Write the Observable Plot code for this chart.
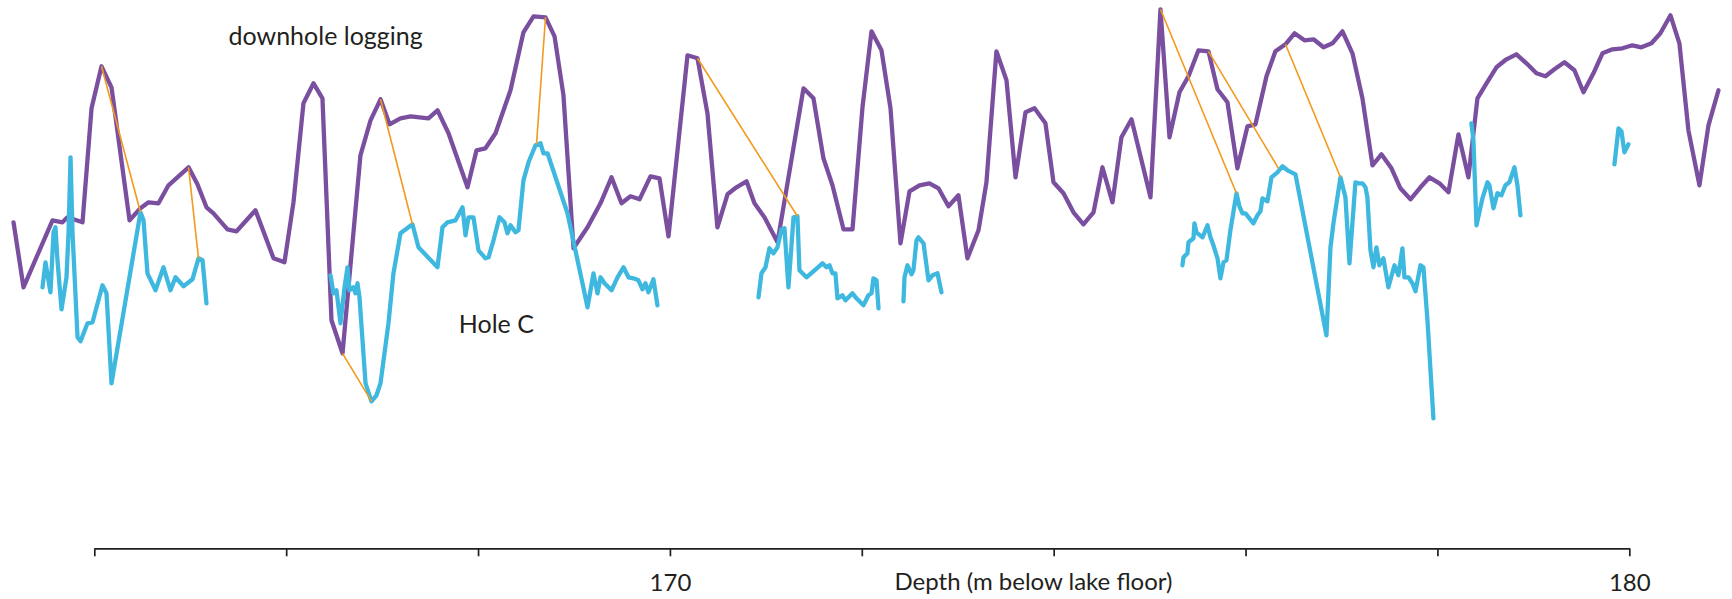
<!DOCTYPE html>
<html>
<head>
<meta charset="utf-8">
<script src="https://cdn.jsdelivr.net/npm/d3@7"></script>
<script src="https://cdn.jsdelivr.net/npm/@observablehq/plot@0.6"></script>
<style>
  html, body { margin: 0; padding: 0; background: #fff; }
  #chart svg { display: block; }
</style>
</head>
<body>
<div id="chart"></div>
<script>
// Downhole logging curve (depth in m below lake floor, relative signal value)
const logDepth = [163.153,163.257,163.559,163.663,163.715,163.872,163.966,164.070,164.174,164.362,164.476,164.560,164.664,164.768,164.977,165.070,165.164,165.237,165.383,165.477,165.675,165.863,165.977,166.071,166.175,166.280,166.373,166.467,166.582,166.769,166.874,166.978,167.072,167.186,167.291,167.478,167.572,167.687,167.885,167.979,168.072,168.177,168.333,168.468,168.573,168.698,168.792,168.885,168.990,169.136,169.271,169.386,169.490,169.584,169.678,169.792,169.886,169.980,170.178,170.282,170.386,170.490,170.595,170.688,170.793,170.876,170.980,171.116,171.387,171.491,171.595,171.689,171.804,171.898,172.002,172.096,172.200,172.294,172.398,172.492,172.596,172.700,172.794,172.898,173.002,173.096,173.211,173.294,173.398,173.503,173.597,173.701,173.795,173.909,173.993,174.097,174.201,174.305,174.410,174.503,174.608,174.701,174.806,175.004,175.108,175.202,175.306,175.400,175.504,175.608,175.702,175.806,175.910,176.015,176.098,176.213,176.306,176.411,176.505,176.609,176.703,176.807,176.901,177.005,177.109,177.213,177.318,177.411,177.516,177.609,177.714,177.818,177.912,178.016,178.110,178.214,178.318,178.412,178.506,178.610,178.714,178.818,178.923,179.027,179.121,179.214,179.319,179.423,179.517,179.621,179.715,179.819,179.923,180.027,180.121,180.226,180.319,180.424,180.517,180.611,180.726,180.820,180.924];
const logValue = [65.3,52.3,65.7,65.3,66.3,65.3,88.1,96.5,92.3,65.7,68.1,69.3,69.1,72.7,76.3,72.9,68.3,67.1,63.9,63.5,67.7,58.1,57.3,69.3,89.1,93.1,90.1,45.7,39.1,78.7,85.7,89.9,84.9,86.1,86.5,86.1,87.7,83.1,72.3,79.7,80.1,83.1,91.7,103.3,106.5,106.3,102.5,90.7,60.1,64.3,69.1,74.3,69.1,70.5,69.9,74.5,74.1,62.5,98.7,98.1,87.1,64.3,70.9,72.3,73.5,69.1,66.3,61.3,92.1,90.1,78.1,72.7,63.9,63.9,88.3,103.5,99.7,88.1,61.1,71.5,72.7,73.1,72.1,68.5,70.7,58.1,63.7,73.3,99.5,93.7,74.3,87.3,88.1,85.1,73.3,71.1,67.3,64.9,67.3,76.3,69.3,82.3,85.9,70.3,107.9,82.3,91.3,94.5,99.7,99.5,91.9,89.3,76.1,84.5,84.9,94.5,99.5,100.9,103.1,101.7,101.9,100.3,101.1,103.5,99.1,90.1,76.7,78.9,76.1,72.1,69.9,72.3,74.3,73.1,71.3,82.9,74.3,90.1,93.1,96.3,97.9,98.9,97.1,95.1,94.5,95.9,97.3,95.7,91.3,95.1,99.1,99.9,100.1,100.7,100.3,101.1,103.1,106.7,101.1,83.7,72.7,84.7,91.7];

// Hole C core curve; null separates the core sections (gaps)
const coreDepth = [163.455,163.486,163.538,163.570,163.590,163.611,163.653,163.705,163.726,163.747,163.768,163.820,163.851,163.924,163.976,164.080,164.122,164.174,164.476,164.508,164.549,164.633,164.716,164.789,164.841,164.925,165.018,165.081,165.123,165.164,
  null,
  166.457,166.488,166.519,166.561,166.603,166.634,166.655,166.696,166.717,166.738,166.759,166.822,166.884,166.936,166.978,167.061,167.113,167.186,167.311,167.374,167.572,167.624,167.676,167.760,167.833,167.864,167.895,167.947,167.999,168.072,168.104,168.156,168.218,168.270,168.302,168.333,168.385,168.416,168.468,168.521,168.594,168.646,168.677,168.719,168.927,169.083,169.136,169.198,169.240,169.271,169.313,169.386,169.448,169.511,169.563,169.615,169.667,169.709,169.740,169.771,169.823,169.865,
  null,
  170.918,170.949,170.991,171.032,171.074,171.116,171.158,171.189,171.230,171.283,171.324,171.345,171.418,171.585,171.627,171.658,171.689,171.720,171.741,171.793,171.825,171.898,171.939,172.012,172.064,172.096,172.116,172.148,172.169,
  null,
  172.429,172.440,172.471,172.513,172.533,172.565,172.585,172.638,172.690,172.731,172.784,172.825,
  null,
  175.337,175.348,175.389,175.400,175.452,175.462,175.483,175.546,175.598,175.629,175.660,175.702,175.733,175.765,175.796,175.837,175.900,175.931,175.963,175.994,176.077,176.119,176.150,176.171,176.223,176.265,176.327,176.379,176.432,176.515,176.838,176.880,176.911,176.984,177.036,177.078,177.140,177.172,177.213,177.245,177.265,177.297,177.328,177.359,177.390,177.432,177.484,177.547,177.588,177.630,177.651,177.693,177.734,177.766,177.818,177.849,177.891,177.953,
  null,
  178.349,178.370,178.402,178.464,178.516,178.537,178.579,178.620,178.662,178.704,178.745,178.798,178.829,178.860,
  null,
  179.840,179.882,179.913,179.944,179.986];
const coreValue = [52.3,57.3,51.3,63.3,64.3,57.7,47.9,54.3,63.1,78.3,63.1,42.3,41.5,45.1,45.3,52.7,51.1,33.1,67.3,65.7,55.1,51.7,56.3,51.7,54.3,52.5,53.9,58.1,57.7,49.1,
  null,
  54.7,51.1,51.7,45.1,52.3,56.3,51.7,52.3,51.1,53.1,50.3,33.1,29.5,30.7,33.1,45.1,55.1,63.1,64.9,60.3,56.3,64.3,65.3,65.7,68.3,62.7,66.3,66.3,59.7,58.1,58.3,61.7,66.3,65.3,63.1,64.7,63.3,63.7,73.7,77.3,80.7,81.1,79.1,79.1,67.1,53.1,48.3,55.1,51.1,54.3,53.1,51.7,54.3,56.3,54.3,54.1,53.7,51.9,53.1,51.3,53.9,48.7,
  null,
  50.3,55.1,56.3,60.1,59.1,60.3,63.9,64.1,52.3,66.3,66.5,55.7,54.3,57.1,56.3,56.7,55.1,55.1,50.1,50.7,49.7,51.1,50.1,48.7,50.7,51.1,54.1,53.7,48.1,
  null,
  49.5,54.3,56.7,54.9,55.7,61.7,62.3,61.1,53.7,54.7,55.1,51.3,
  null,
  56.7,58.3,59.1,61.3,62.1,65.1,63.3,62.3,64.7,62.3,60.7,58.1,54.1,57.3,57.7,63.7,71.1,68.5,67.1,67.1,65.1,66.7,67.5,70.1,69.5,74.3,75.3,76.5,75.7,74.9,42.7,60.3,65.1,74.3,70.3,57.1,73.3,73.1,73.1,72.3,70.3,59.7,56.3,60.3,56.7,58.1,52.3,56.7,54.7,60.1,54.3,54.3,53.1,51.5,56.7,56.3,45.7,26.1,
  null,
  85.1,81.7,64.7,70.1,73.3,72.7,68.1,71.1,70.7,72.7,73.3,76.3,72.7,66.7,
  null,
  76.9,84.1,83.5,79.3,80.9];

// Correlation tie points: downhole log -> Hole C
const tieLogDepth  = [164.070, 164.977, 166.582, 166.978, 168.698, 170.282, 175.108, 175.608, 176.411];
const tieLogValue  = [96.5, 76.3, 39.1, 89.9, 106.3, 98.1, 107.9, 99.5, 100.9];
const tieCoreDepth = [164.476, 165.081, 166.884, 167.311, 168.604, 171.324, 175.900, 176.338, 176.984];
const tieCoreValue = [67.3, 58.1, 29.5, 64.9, 80.9, 66.5, 71.1, 76.1, 74.3];

const xTicks = [164, 166, 168, 170, 172, 174, 176, 178, 180];
const xTickLabels = [170, 180];
const axisTitle = "Depth (m below lake floor)";
const seriesLabels = ["downhole logging", "Hole C"];
const seriesLabelDepth = [165.394, 167.794];
const seriesLabelValue = [102.3, 44.7];

const logData = logDepth.map((d, i) => ({depth: d, value: logValue[i]}));
const coreData = coreDepth.map((d, i) => ({depth: d, value: coreValue[i]}));
const ties = tieLogDepth.map((d, i) => ({x1: d, y1: tieLogValue[i], x2: tieCoreDepth[i], y2: tieCoreValue[i]}));
const labels = seriesLabels.map((t, i) => ({t, x: seriesLabelDepth[i], y: seriesLabelValue[i]}));
const INK = "#231f20";

const chart = Plot.plot({
  width: 1732,
  height: 599,
  marginLeft: 94.3,
  marginRight: 102.7,
  marginTop: 8.3,
  marginBottom: 50.7,
  style: {fontFamily: "Lato, 'Open Sans', sans-serif", fontSize: "24px", color: INK, background: "#fff"},
  x: {
    domain: [164, 180],
    ticks: xTicks,
    tickSize: 8,
    tickPadding: 17,
    tickFormat: d => xTickLabels.includes(d) ? String(d) : "",
    label: null
  },
  y: {domain: [0, 108], axis: null},
  marks: [
    Plot.link([{a: 164, b: 180, y: 0}], {x1: "a", x2: "b", y1: "y", y2: "y", stroke: INK, strokeWidth: 1.7}),
    Plot.line(logData, {x: "depth", y: "value", stroke: "#7b4f9f", strokeWidth: 4.3, strokeLinejoin: "round", strokeLinecap: "round"}),
    Plot.line(coreData, {x: "depth", y: "value", stroke: "#3fb8e0", strokeWidth: 4.3, strokeLinejoin: "round", strokeLinecap: "round"}),
    Plot.link(ties, {x1: "x1", y1: "y1", x2: "x2", y2: "y2", stroke: "#f39a1e", strokeWidth: 1.6}),
    Plot.text(labels, {x: "x", y: "y", text: "t", textAnchor: "start", fontSize: 25, fill: INK}),
    Plot.text([axisTitle], {x: 173.784, y: -6.74, text: d => d, fontSize: 24, fill: INK})
  ]
});
chart.querySelectorAll("[aria-label='x-axis tick'] path, g[aria-label='x-axis'] path").forEach(p => { p.setAttribute("stroke-width", "1.7"); p.setAttribute("stroke", INK); });
document.getElementById("chart").appendChild(chart);
</script>
</body>
</html>
